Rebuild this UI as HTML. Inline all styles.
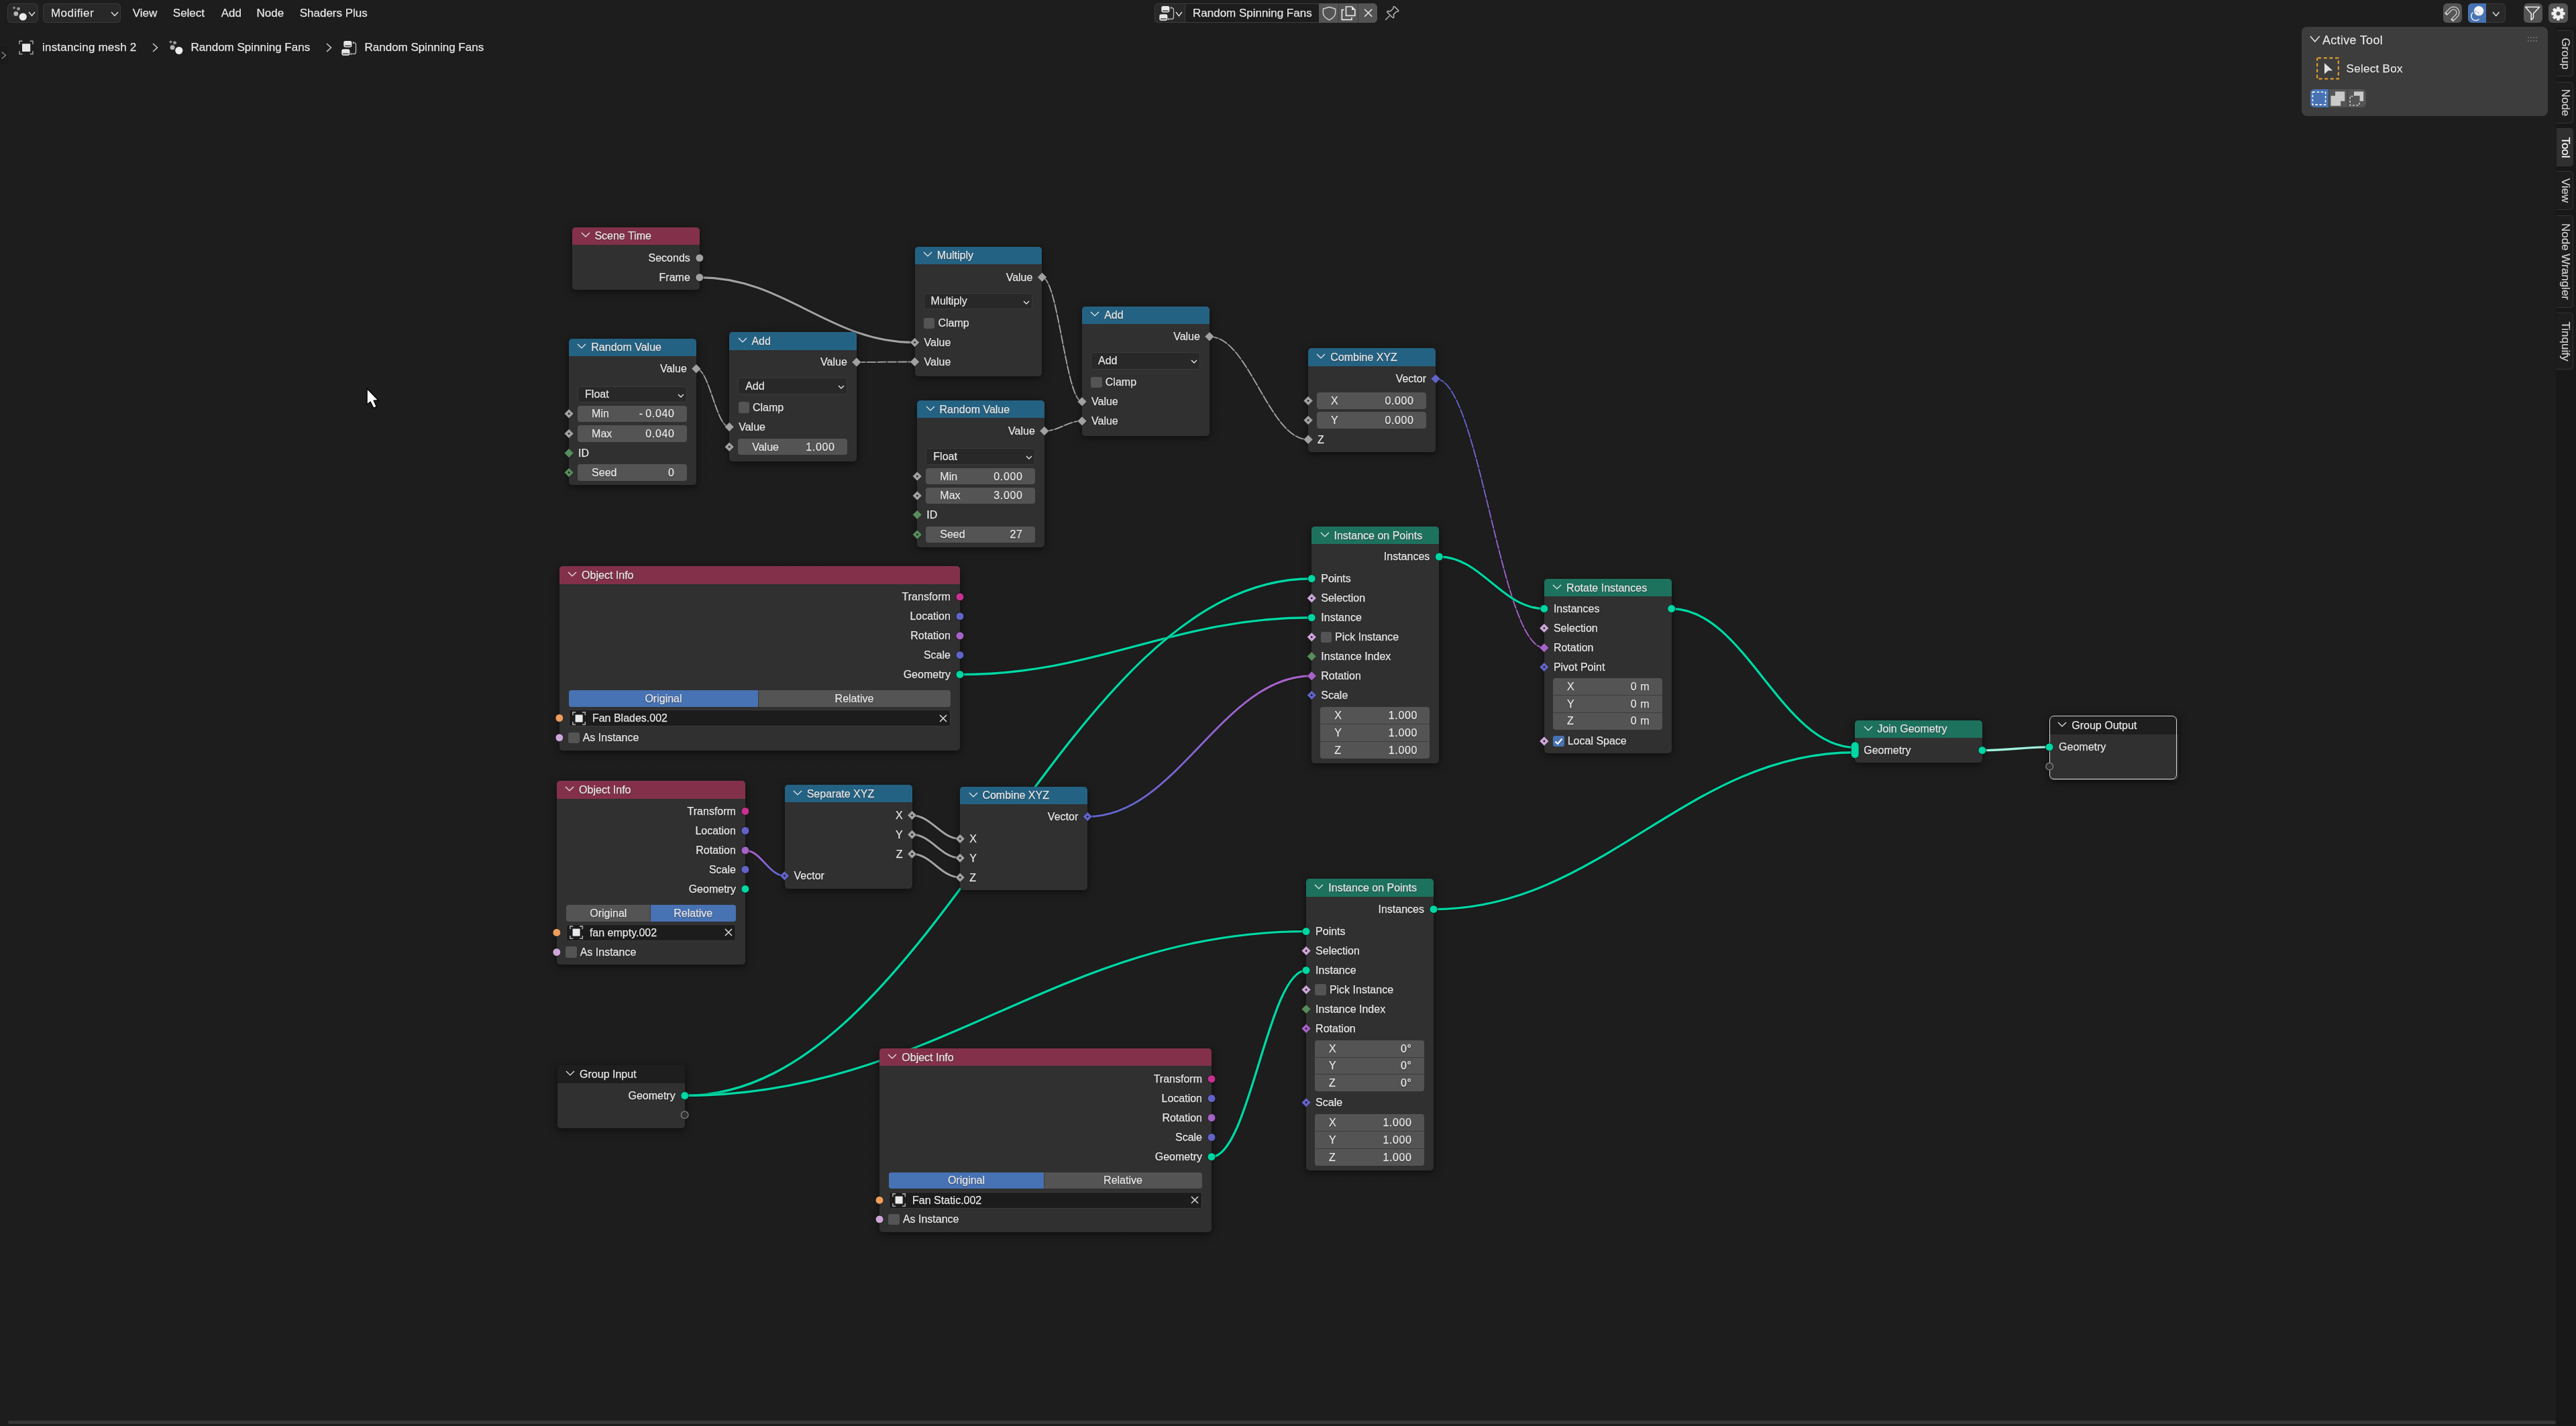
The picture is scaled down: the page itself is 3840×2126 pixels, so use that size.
<!DOCTYPE html>
<html><head><meta charset="utf-8"><title>Blender Node Editor</title><style>html,body{margin:0;padding:0}
body{width:3840px;height:2126px;background:#1d1d1d;overflow:hidden;position:relative;font-family:"Liberation Sans", sans-serif}
.t{position:absolute;white-space:nowrap;-webkit-text-stroke:0.25px currentColor;text-shadow:0 0.5px 1.5px rgba(0,0,0,0.55)}
.r{position:absolute}
svg.r{overflow:visible}</style></head>
<body>
<div style="position:absolute;left:0;top:0;width:3840px;height:2126px;will-change:transform">
<svg class="r" style="left:0;top:0" width="3840" height="2126"><defs><pattern id="gmin" patternUnits="userSpaceOnUse" x="21.1" y="20.8" width="27.196" height="27.196"><rect x="0" y="0" width="1.2" height="1.2" fill="#222"/></pattern><pattern id="gmaj" patternUnits="userSpaceOnUse" x="48.30" y="75.20" width="135.98" height="135.98"><rect x="-0.9" y="-0.9" width="2" height="2" fill="#292929"/></pattern></defs><rect width="3840" height="2126" fill="url(#gmin)"/><rect width="3840" height="2126" fill="url(#gmaj)"/><path d="M1042.8 413.6C1171.1 413.6 1235.3 510.6 1363.6 510.6" fill="none" stroke="#000" stroke-opacity="0.35" stroke-width="5.2"/><path d="M1042.8 413.6C1171.1 413.6 1235.3 510.6 1363.6 510.6" fill="none" stroke="#a1a1a1" stroke-width="3.2"/><path d="M1037.8 549.7C1057.6 549.7 1067.4 636.6 1087.2 636.6" fill="none" stroke="#000" stroke-opacity="0.25" stroke-width="3.2"/><path d="M1037.8 549.7C1057.6 549.7 1067.4 636.6 1087.2 636.6" fill="none" stroke="#a1a1a1" stroke-opacity="0.5" stroke-width="1.8"/><path d="M1037.8 549.7C1057.6 549.7 1067.4 636.6 1087.2 636.6" fill="none" stroke="#a1a1a1" stroke-width="1.8" stroke-dasharray="13 2.5"/><path d="M1276.8 539.9C1311.5 539.9 1328.9 539.5 1363.6 539.5" fill="none" stroke="#000" stroke-opacity="0.25" stroke-width="3.2"/><path d="M1276.8 539.9C1311.5 539.9 1328.9 539.5 1363.6 539.5" fill="none" stroke="#a1a1a1" stroke-opacity="0.5" stroke-width="1.8"/><path d="M1276.8 539.9C1311.5 539.9 1328.9 539.5 1363.6 539.5" fill="none" stroke="#a1a1a1" stroke-width="1.8" stroke-dasharray="13 2.5"/><path d="M1553.4 413.3C1577.2 413.3 1589.2 598.7 1613.0 598.7" fill="none" stroke="#000" stroke-opacity="0.25" stroke-width="3.2"/><path d="M1553.4 413.3C1577.2 413.3 1589.2 598.7 1613.0 598.7" fill="none" stroke="#a1a1a1" stroke-opacity="0.5" stroke-width="1.8"/><path d="M1553.4 413.3C1577.2 413.3 1589.2 598.7 1613.0 598.7" fill="none" stroke="#a1a1a1" stroke-width="1.8" stroke-dasharray="13 2.5"/><path d="M1556.8 642.5C1579.3 642.5 1590.5 627.7 1613.0 627.7" fill="none" stroke="#000" stroke-opacity="0.25" stroke-width="3.2"/><path d="M1556.8 642.5C1579.3 642.5 1590.5 627.7 1613.0 627.7" fill="none" stroke="#a1a1a1" stroke-opacity="0.5" stroke-width="1.8"/><path d="M1556.8 642.5C1579.3 642.5 1590.5 627.7 1613.0 627.7" fill="none" stroke="#a1a1a1" stroke-width="1.8" stroke-dasharray="13 2.5"/><path d="M1802.9 501.8C1861.8 501.8 1891.2 655.3 1950.1 655.3" fill="none" stroke="#000" stroke-opacity="0.25" stroke-width="3.2"/><path d="M1802.9 501.8C1861.8 501.8 1891.2 655.3 1950.1 655.3" fill="none" stroke="#a1a1a1" stroke-opacity="0.5" stroke-width="1.8"/><path d="M1802.9 501.8C1861.8 501.8 1891.2 655.3 1950.1 655.3" fill="none" stroke="#a1a1a1" stroke-width="1.8" stroke-dasharray="13 2.5"/><defs><linearGradient id="lg1" gradientUnits="userSpaceOnUse" x1="2140.0" y1="564.7" x2="2301.9" y2="965.8"><stop offset="0.15" stop-color="#6363c7"/><stop offset="0.85" stop-color="#a663c7"/></linearGradient></defs><path d="M2140.0 564.7C2204.8 564.7 2237.1 965.8 2301.9 965.8" fill="none" stroke="#000" stroke-opacity="0.25" stroke-width="3.2"/><path d="M2140.0 564.7C2204.8 564.7 2237.1 965.8 2301.9 965.8" fill="none" stroke="url(#lg1)" stroke-opacity="0.5" stroke-width="1.8"/><path d="M2140.0 564.7C2204.8 564.7 2237.1 965.8 2301.9 965.8" fill="none" stroke="url(#lg1)" stroke-width="1.8" stroke-dasharray="13 2.5"/><path d="M2145.3 830.0C2207.9 830.0 2239.3 907.5 2301.9 907.5" fill="none" stroke="#000" stroke-opacity="0.35" stroke-width="5.0"/><path d="M2145.3 830.0C2207.9 830.0 2239.3 907.5 2301.9 907.5" fill="none" stroke="#00d6a3" stroke-width="3.4"/><path d="M1430.9 1005.6C1640.7 1005.6 1745.5 920.8 1955.3 920.8" fill="none" stroke="#000" stroke-opacity="0.35" stroke-width="5.0"/><path d="M1430.9 1005.6C1640.7 1005.6 1745.5 920.8 1955.3 920.8" fill="none" stroke="#00d6a3" stroke-width="3.4"/><path d="M1020.7 1633.5C1394.5 1633.5 1581.5 862.7 1955.3 862.7" fill="none" stroke="#000" stroke-opacity="0.35" stroke-width="5.0"/><path d="M1020.7 1633.5C1394.5 1633.5 1581.5 862.7 1955.3 862.7" fill="none" stroke="#00d6a3" stroke-width="3.4"/><path d="M1020.7 1633.5C1391.3 1633.5 1576.5 1388.6 1947.1 1388.6" fill="none" stroke="#000" stroke-opacity="0.35" stroke-width="5.0"/><path d="M1020.7 1633.5C1391.3 1633.5 1576.5 1388.6 1947.1 1388.6" fill="none" stroke="#00d6a3" stroke-width="3.4"/><defs><linearGradient id="lg2" gradientUnits="userSpaceOnUse" x1="1621.2" y1="1217.5" x2="1955.3" y2="1007.7"><stop offset="0.15" stop-color="#6363c7"/><stop offset="0.85" stop-color="#a663c7"/></linearGradient></defs><path d="M1621.2 1217.5C1754.8 1217.5 1821.7 1007.7 1955.3 1007.7" fill="none" stroke="#000" stroke-opacity="0.35" stroke-width="5.2"/><path d="M1621.2 1217.5C1754.8 1217.5 1821.7 1007.7 1955.3 1007.7" fill="none" stroke="url(#lg2)" stroke-width="3.2"/><defs><linearGradient id="lg3" gradientUnits="userSpaceOnUse" x1="1110.9" y1="1267.8" x2="1169.5" y2="1305.7"><stop offset="0.15" stop-color="#a663c7"/><stop offset="0.85" stop-color="#6363c7"/></linearGradient></defs><path d="M1110.9 1267.8C1134.3 1267.8 1146.1 1305.7 1169.5 1305.7" fill="none" stroke="#000" stroke-opacity="0.35" stroke-width="5.2"/><path d="M1110.9 1267.8C1134.3 1267.8 1146.1 1305.7 1169.5 1305.7" fill="none" stroke="url(#lg3)" stroke-width="3.2"/><path d="M1359.6 1215.6C1388.2 1215.6 1402.6 1250.6 1431.2 1250.6" fill="none" stroke="#000" stroke-opacity="0.35" stroke-width="5.2"/><path d="M1359.6 1215.6C1388.2 1215.6 1402.6 1250.6 1431.2 1250.6" fill="none" stroke="#a1a1a1" stroke-width="3.2"/><path d="M1359.6 1244.2C1388.2 1244.2 1402.6 1279.2 1431.2 1279.2" fill="none" stroke="#000" stroke-opacity="0.35" stroke-width="5.2"/><path d="M1359.6 1244.2C1388.2 1244.2 1402.6 1279.2 1431.2 1279.2" fill="none" stroke="#a1a1a1" stroke-width="3.2"/><path d="M1359.6 1273.2C1388.2 1273.2 1402.6 1308.2 1431.2 1308.2" fill="none" stroke="#000" stroke-opacity="0.35" stroke-width="5.2"/><path d="M1359.6 1273.2C1388.2 1273.2 1402.6 1308.2 1431.2 1308.2" fill="none" stroke="#a1a1a1" stroke-width="3.2"/><path d="M1806.0 1724.7C1862.4 1724.7 1890.7 1446.6 1947.1 1446.6" fill="none" stroke="#000" stroke-opacity="0.35" stroke-width="5.0"/><path d="M1806.0 1724.7C1862.4 1724.7 1890.7 1446.6 1947.1 1446.6" fill="none" stroke="#00d6a3" stroke-width="3.4"/><path d="M2491.7 907.5C2601.1 907.5 2655.8 1114.4 2765.2 1114.4" fill="none" stroke="#000" stroke-opacity="0.35" stroke-width="5.0"/><path d="M2491.7 907.5C2601.1 907.5 2655.8 1114.4 2765.2 1114.4" fill="none" stroke="#00d6a3" stroke-width="3.4"/><path d="M2137.0 1355.6C2388.3 1355.6 2513.9 1121.7 2765.2 1121.7" fill="none" stroke="#000" stroke-opacity="0.35" stroke-width="5.0"/><path d="M2137.0 1355.6C2388.3 1355.6 2513.9 1121.7 2765.2 1121.7" fill="none" stroke="#00d6a3" stroke-width="3.4"/><path d="M2954.9 1118.6C2995.0 1118.6 3015.0 1113.8 3055.1 1113.8" fill="none" stroke="#000" stroke-opacity="0.35" stroke-width="5.0"/><path d="M2954.9 1118.6C2995.0 1118.6 3015.0 1113.8 3055.1 1113.8" fill="none" stroke="#9ff0dc" stroke-width="3.4"/></svg>
<div class="r" style="left:853.2px;top:339.0px;width:189.6px;height:93.4px;background:#303030;border-radius:5px;box-shadow:0 3px 12px rgba(0,0,0,0.55);"></div><div class="r" style="left:853.2px;top:339.0px;width:189.6px;height:26.1px;background:#83314a;border-radius:5px 5px 0 0"></div><svg class="r" style="left:864.5px;top:345.4px" width="16" height="9.9"><path d="M2 2L8.0 7.9L14 2" fill="none" stroke="#e6e6e6" stroke-width="1.35"/></svg><div class="t" style="left:886.4px;top:340.4px;font-size:16px;line-height:24px;color:#e6e6e6;">Scene Time</div><div class="t" style="right:2811.2px;top:373.0px;font-size:16px;line-height:24px;color:#e6e6e6;">Seconds</div><div class="t" style="right:2811.2px;top:401.9px;font-size:16px;line-height:24px;color:#e6e6e6;">Frame</div><div class="r" style="left:848.1px;top:505.1px;width:189.7px;height:217.7px;background:#303030;border-radius:5px;box-shadow:0 3px 12px rgba(0,0,0,0.55);"></div><div class="r" style="left:848.1px;top:505.1px;width:189.7px;height:25.8px;background:#246283;border-radius:5px 5px 0 0"></div><svg class="r" style="left:859.4px;top:511.4px" width="16" height="9.9"><path d="M2 2L8.0 7.9L14 2" fill="none" stroke="#e6e6e6" stroke-width="1.35"/></svg><div class="t" style="left:881.3px;top:506.3px;font-size:16px;line-height:24px;color:#e6e6e6;">Random Value</div><div class="t" style="right:2816.2px;top:538.0px;font-size:16px;line-height:24px;color:#e6e6e6;">Value</div><div class="r" style="left:861.1px;top:575.8px;width:162.7px;height:24.4px;background:#282828;border-radius:4px;box-shadow:inset 0 0 0 1px #3a3a3a;"></div><div class="t" style="left:872.1px;top:576.3px;font-size:16px;line-height:24px;color:#e6e6e6;">Float</div><svg class="r" style="left:1008.8px;top:585.5px" width="12" height="8"><path d="M2 2L6.0 6L10 2" fill="none" stroke="#e6e6e6" stroke-width="1.4"/></svg><div class="r" style="left:861.1px;top:604.9px;width:162.7px;height:23.9px;background:#545454;border-radius:4px;"></div><div class="t" style="left:882.1px;top:605.2px;font-size:16px;line-height:24px;color:#e6e6e6;">Min</div><div class="t" style="right:2834.6px;top:605.2px;font-size:16px;line-height:24px;color:#e6e6e6;letter-spacing:0.6px;">-&#8201;0.040</div><div class="r" style="left:861.1px;top:633.8px;width:162.7px;height:25.3px;background:#545454;border-radius:4px;"></div><div class="t" style="left:882.1px;top:634.8px;font-size:16px;line-height:24px;color:#e6e6e6;">Max</div><div class="t" style="right:2834.6px;top:634.8px;font-size:16px;line-height:24px;color:#e6e6e6;letter-spacing:0.6px;">0.040</div><div class="t" style="left:862.1px;top:663.9px;font-size:16px;line-height:24px;color:#e6e6e6;">ID</div><div class="r" style="left:861.1px;top:691.9px;width:162.7px;height:25.3px;background:#545454;border-radius:4px;"></div><div class="t" style="left:882.1px;top:692.9px;font-size:16px;line-height:24px;color:#e6e6e6;">Seed</div><div class="t" style="right:2834.6px;top:692.9px;font-size:16px;line-height:24px;color:#e6e6e6;letter-spacing:0.6px;">0</div><div class="r" style="left:1087.2px;top:495.2px;width:189.6px;height:192.5px;background:#303030;border-radius:5px;box-shadow:0 3px 12px rgba(0,0,0,0.55);"></div><div class="r" style="left:1087.2px;top:495.2px;width:189.6px;height:26.4px;background:#246283;border-radius:5px 5px 0 0"></div><svg class="r" style="left:1098.5px;top:501.8px" width="16" height="9.9"><path d="M2 2L8.0 7.9L14 2" fill="none" stroke="#e6e6e6" stroke-width="1.35"/></svg><div class="t" style="left:1120.4px;top:496.7px;font-size:16px;line-height:24px;color:#e6e6e6;">Add</div><div class="t" style="right:2577.2px;top:528.2px;font-size:16px;line-height:24px;color:#e6e6e6;">Value</div><div class="r" style="left:1100.2px;top:563.4px;width:162.6px;height:24.7px;background:#282828;border-radius:4px;box-shadow:inset 0 0 0 1px #3a3a3a;"></div><div class="t" style="left:1111.2px;top:564.1px;font-size:16px;line-height:24px;color:#e6e6e6;">Add</div><svg class="r" style="left:1247.8px;top:573.2px" width="12" height="8"><path d="M2 2L6.0 6L10 2" fill="none" stroke="#e6e6e6" stroke-width="1.4"/></svg><div class="r" style="left:1100.5px;top:599.4px;width:16.6px;height:16.6px;background:#545454;border-radius:3px;"></div><div class="t" style="left:1122.0px;top:596.0px;font-size:16px;line-height:24px;color:#e6e6e6;">Clamp</div><div class="t" style="left:1101.2px;top:624.9px;font-size:16px;line-height:24px;color:#e6e6e6;">Value</div><div class="r" style="left:1100.2px;top:654.0px;width:162.6px;height:24.4px;background:#545454;border-radius:4px;"></div><div class="t" style="left:1121.2px;top:654.5px;font-size:16px;line-height:24px;color:#e6e6e6;">Value</div><div class="t" style="right:2595.6px;top:654.5px;font-size:16px;line-height:24px;color:#e6e6e6;letter-spacing:0.6px;">1.000</div><div class="r" style="left:1363.6px;top:367.8px;width:189.8px;height:193.6px;background:#303030;border-radius:5px;box-shadow:0 3px 12px rgba(0,0,0,0.55);"></div><div class="r" style="left:1363.6px;top:367.8px;width:189.8px;height:26.3px;background:#246283;border-radius:5px 5px 0 0"></div><svg class="r" style="left:1374.9px;top:374.4px" width="16" height="9.9"><path d="M2 2L8.0 7.9L14 2" fill="none" stroke="#e6e6e6" stroke-width="1.35"/></svg><div class="t" style="left:1396.8px;top:369.3px;font-size:16px;line-height:24px;color:#e6e6e6;">Multiply</div><div class="t" style="right:2300.6px;top:401.6px;font-size:16px;line-height:24px;color:#e6e6e6;">Value</div><div class="r" style="left:1376.6px;top:436.8px;width:162.8px;height:24.3px;background:#282828;border-radius:4px;box-shadow:inset 0 0 0 1px #3a3a3a;"></div><div class="t" style="left:1387.6px;top:437.3px;font-size:16px;line-height:24px;color:#e6e6e6;">Multiply</div><svg class="r" style="left:1524.4px;top:446.5px" width="12" height="8"><path d="M2 2L6.0 6L10 2" fill="none" stroke="#e6e6e6" stroke-width="1.4"/></svg><div class="r" style="left:1376.9px;top:473.6px;width:16.6px;height:16.6px;background:#545454;border-radius:3px;"></div><div class="t" style="left:1398.4px;top:470.2px;font-size:16px;line-height:24px;color:#e6e6e6;">Clamp</div><div class="t" style="left:1377.6px;top:498.9px;font-size:16px;line-height:24px;color:#e6e6e6;">Value</div><div class="t" style="left:1377.6px;top:527.8px;font-size:16px;line-height:24px;color:#e6e6e6;">Value</div><div class="r" style="left:1613.0px;top:457.0px;width:189.9px;height:192.6px;background:#303030;border-radius:5px;box-shadow:0 3px 12px rgba(0,0,0,0.55);"></div><div class="r" style="left:1613.0px;top:457.0px;width:189.9px;height:26.0px;background:#246283;border-radius:5px 5px 0 0"></div><svg class="r" style="left:1624.3px;top:463.4px" width="16" height="9.9"><path d="M2 2L8.0 7.9L14 2" fill="none" stroke="#e6e6e6" stroke-width="1.35"/></svg><div class="t" style="left:1646.2px;top:458.3px;font-size:16px;line-height:24px;color:#e6e6e6;">Add</div><div class="t" style="right:2051.1px;top:490.1px;font-size:16px;line-height:24px;color:#e6e6e6;">Value</div><div class="r" style="left:1626.0px;top:524.7px;width:162.9px;height:25.9px;background:#282828;border-radius:4px;box-shadow:inset 0 0 0 1px #3a3a3a;"></div><div class="t" style="left:1637.0px;top:526.0px;font-size:16px;line-height:24px;color:#e6e6e6;">Add</div><svg class="r" style="left:1773.9px;top:535.2px" width="12" height="8"><path d="M2 2L6.0 6L10 2" fill="none" stroke="#e6e6e6" stroke-width="1.4"/></svg><div class="r" style="left:1626.3px;top:561.5px;width:16.6px;height:16.6px;background:#545454;border-radius:3px;"></div><div class="t" style="left:1647.8px;top:558.1px;font-size:16px;line-height:24px;color:#e6e6e6;">Clamp</div><div class="t" style="left:1627.0px;top:587.0px;font-size:16px;line-height:24px;color:#e6e6e6;">Value</div><div class="t" style="left:1627.0px;top:616.0px;font-size:16px;line-height:24px;color:#e6e6e6;">Value</div><div class="r" style="left:1367.3px;top:597.1px;width:189.5px;height:218.7px;background:#303030;border-radius:5px;box-shadow:0 3px 12px rgba(0,0,0,0.55);"></div><div class="r" style="left:1367.3px;top:597.1px;width:189.5px;height:26.2px;background:#246283;border-radius:5px 5px 0 0"></div><svg class="r" style="left:1378.6px;top:603.6px" width="16" height="9.9"><path d="M2 2L8.0 7.9L14 2" fill="none" stroke="#e6e6e6" stroke-width="1.35"/></svg><div class="t" style="left:1400.5px;top:598.5px;font-size:16px;line-height:24px;color:#e6e6e6;">Random Value</div><div class="t" style="right:2297.2px;top:630.8px;font-size:16px;line-height:24px;color:#e6e6e6;">Value</div><div class="r" style="left:1380.3px;top:668.4px;width:162.5px;height:24.9px;background:#282828;border-radius:4px;box-shadow:inset 0 0 0 1px #3a3a3a;"></div><div class="t" style="left:1391.3px;top:669.2px;font-size:16px;line-height:24px;color:#e6e6e6;">Float</div><svg class="r" style="left:1527.8px;top:678.3px" width="12" height="8"><path d="M2 2L6.0 6L10 2" fill="none" stroke="#e6e6e6" stroke-width="1.4"/></svg><div class="r" style="left:1380.3px;top:698.0px;width:162.5px;height:24.3px;background:#545454;border-radius:4px;"></div><div class="t" style="left:1401.3px;top:698.5px;font-size:16px;line-height:24px;color:#e6e6e6;">Min</div><div class="t" style="right:2315.6px;top:698.5px;font-size:16px;line-height:24px;color:#e6e6e6;letter-spacing:0.6px;">0.000</div><div class="r" style="left:1380.3px;top:727.0px;width:162.5px;height:24.2px;background:#545454;border-radius:4px;"></div><div class="t" style="left:1401.3px;top:727.4px;font-size:16px;line-height:24px;color:#e6e6e6;">Max</div><div class="t" style="right:2315.6px;top:727.4px;font-size:16px;line-height:24px;color:#e6e6e6;letter-spacing:0.6px;">3.000</div><div class="t" style="left:1381.3px;top:755.7px;font-size:16px;line-height:24px;color:#e6e6e6;">ID</div><div class="r" style="left:1380.3px;top:784.9px;width:162.5px;height:24.2px;background:#545454;border-radius:4px;"></div><div class="t" style="left:1401.3px;top:785.3px;font-size:16px;line-height:24px;color:#e6e6e6;">Seed</div><div class="t" style="right:2315.6px;top:785.3px;font-size:16px;line-height:24px;color:#e6e6e6;letter-spacing:0.6px;">27</div><div class="r" style="left:1950.1px;top:519.3px;width:189.9px;height:154.8px;background:#303030;border-radius:5px;box-shadow:0 3px 12px rgba(0,0,0,0.55);"></div><div class="r" style="left:1950.1px;top:519.3px;width:189.9px;height:26.3px;background:#246283;border-radius:5px 5px 0 0"></div><svg class="r" style="left:1961.4px;top:525.9px" width="16" height="9.9"><path d="M2 2L8.0 7.9L14 2" fill="none" stroke="#e6e6e6" stroke-width="1.35"/></svg><div class="t" style="left:1983.3px;top:520.8px;font-size:16px;line-height:24px;color:#e6e6e6;">Combine XYZ</div><div class="t" style="right:1714.0px;top:553.0px;font-size:16px;line-height:24px;color:#e6e6e6;">Vector</div><div class="r" style="left:1963.1px;top:585.2px;width:162.9px;height:24.7px;background:#545454;border-radius:4px;"></div><div class="t" style="left:1984.1px;top:585.9px;font-size:16px;line-height:24px;color:#e6e6e6;">X</div><div class="t" style="right:1732.4px;top:585.9px;font-size:16px;line-height:24px;color:#e6e6e6;letter-spacing:0.6px;">0.000</div><div class="r" style="left:1963.1px;top:614.1px;width:162.9px;height:24.9px;background:#545454;border-radius:4px;"></div><div class="t" style="left:1984.1px;top:614.9px;font-size:16px;line-height:24px;color:#e6e6e6;">Y</div><div class="t" style="right:1732.4px;top:614.9px;font-size:16px;line-height:24px;color:#e6e6e6;letter-spacing:0.6px;">0.000</div><div class="t" style="left:1964.1px;top:643.6px;font-size:16px;line-height:24px;color:#e6e6e6;">Z</div><div class="r" style="left:1955.3px;top:785.2px;width:190.0px;height:352.5px;background:#303030;border-radius:5px;box-shadow:0 3px 12px rgba(0,0,0,0.55);"></div><div class="r" style="left:1955.3px;top:785.2px;width:190.0px;height:26.1px;background:#1d725e;border-radius:5px 5px 0 0"></div><svg class="r" style="left:1966.6px;top:791.6px" width="16" height="9.9"><path d="M2 2L8.0 7.9L14 2" fill="none" stroke="#e6e6e6" stroke-width="1.35"/></svg><div class="t" style="left:1988.5px;top:786.6px;font-size:16px;line-height:24px;color:#e6e6e6;">Instance on Points</div><div class="t" style="right:1708.7px;top:818.3px;font-size:16px;line-height:24px;color:#e6e6e6;">Instances</div><div class="t" style="left:1969.3px;top:851.0px;font-size:16px;line-height:24px;color:#e6e6e6;">Points</div><div class="t" style="left:1969.3px;top:880.1px;font-size:16px;line-height:24px;color:#e6e6e6;">Selection</div><div class="t" style="left:1969.3px;top:909.1px;font-size:16px;line-height:24px;color:#e6e6e6;">Instance</div><div class="r" style="left:1968.6px;top:941.5px;width:16.6px;height:16.6px;background:#545454;border-radius:3px;"></div><div class="t" style="left:1990.1px;top:938.1px;font-size:16px;line-height:24px;color:#e6e6e6;">Pick Instance</div><div class="t" style="left:1969.3px;top:966.9px;font-size:16px;line-height:24px;color:#e6e6e6;">Instance Index</div><div class="t" style="left:1969.3px;top:996.0px;font-size:16px;line-height:24px;color:#e6e6e6;">Rotation</div><div class="t" style="left:1969.3px;top:1024.7px;font-size:16px;line-height:24px;color:#e6e6e6;">Scale</div><div class="r" style="left:1968.3px;top:1053.8px;width:163.0px;height:77.2px;background:#545454;border-radius:4px;"></div><div class="t" style="left:1989.3px;top:1055.0px;font-size:16px;line-height:24px;color:#e6e6e6;">X</div><div class="t" style="right:1727.1px;top:1055.0px;font-size:16px;line-height:24px;color:#e6e6e6;letter-spacing:0.6px;">1.000</div><div class="r" style="left:1968.3px;top:1079.0px;width:163.0px;height:1.0px;background:#3d3d3d;border-radius:0px;"></div><div class="t" style="left:1989.3px;top:1080.7px;font-size:16px;line-height:24px;color:#e6e6e6;">Y</div><div class="t" style="right:1727.1px;top:1080.7px;font-size:16px;line-height:24px;color:#e6e6e6;letter-spacing:0.6px;">1.000</div><div class="r" style="left:1968.3px;top:1104.8px;width:163.0px;height:1.0px;background:#3d3d3d;border-radius:0px;"></div><div class="t" style="left:1989.3px;top:1106.5px;font-size:16px;line-height:24px;color:#e6e6e6;">Z</div><div class="t" style="right:1727.1px;top:1106.5px;font-size:16px;line-height:24px;color:#e6e6e6;letter-spacing:0.6px;">1.000</div><div class="r" style="left:2301.9px;top:863.3px;width:189.8px;height:259.7px;background:#303030;border-radius:5px;box-shadow:0 3px 12px rgba(0,0,0,0.55);"></div><div class="r" style="left:2301.9px;top:863.3px;width:189.8px;height:25.8px;background:#1d725e;border-radius:5px 5px 0 0"></div><svg class="r" style="left:2313.2px;top:869.6px" width="16" height="9.9"><path d="M2 2L8.0 7.9L14 2" fill="none" stroke="#e6e6e6" stroke-width="1.35"/></svg><div class="t" style="left:2335.1px;top:864.5px;font-size:16px;line-height:24px;color:#e6e6e6;">Rotate Instances</div><div class="t" style="left:2315.9px;top:895.8px;font-size:16px;line-height:24px;color:#e6e6e6;">Instances</div><div class="t" style="left:2315.9px;top:924.8px;font-size:16px;line-height:24px;color:#e6e6e6;">Selection</div><div class="t" style="left:2315.9px;top:954.1px;font-size:16px;line-height:24px;color:#e6e6e6;">Rotation</div><div class="t" style="left:2315.9px;top:982.9px;font-size:16px;line-height:24px;color:#e6e6e6;">Pivot Point</div><div class="r" style="left:2314.9px;top:1011.1px;width:162.8px;height:76.5px;background:#545454;border-radius:4px;"></div><div class="t" style="left:2335.9px;top:1012.2px;font-size:16px;line-height:24px;color:#e6e6e6;">X</div><div class="t" style="right:1380.7px;top:1012.2px;font-size:16px;line-height:24px;color:#e6e6e6;letter-spacing:0.6px;">0 m</div><div class="r" style="left:2314.9px;top:1036.1px;width:162.8px;height:1.0px;background:#3d3d3d;border-radius:0px;"></div><div class="t" style="left:2335.9px;top:1037.7px;font-size:16px;line-height:24px;color:#e6e6e6;">Y</div><div class="t" style="right:1380.7px;top:1037.7px;font-size:16px;line-height:24px;color:#e6e6e6;letter-spacing:0.6px;">0 m</div><div class="r" style="left:2314.9px;top:1061.6px;width:162.8px;height:1.0px;background:#3d3d3d;border-radius:0px;"></div><div class="t" style="left:2335.9px;top:1063.2px;font-size:16px;line-height:24px;color:#e6e6e6;">Z</div><div class="t" style="right:1380.7px;top:1063.2px;font-size:16px;line-height:24px;color:#e6e6e6;letter-spacing:0.6px;">0 m</div><div class="r" style="left:2315.2px;top:1096.6px;width:16.6px;height:16.6px;background:#4772b3;border-radius:3px;"></div><svg class="r" style="left:2315.2px;top:1096.6px" width="17" height="17"><path d="M3.5 8.5L7 12L13.5 4.5" fill="none" stroke="#fff" stroke-width="2.2"/></svg><div class="t" style="left:2336.7px;top:1093.2px;font-size:16px;line-height:24px;color:#e6e6e6;">Local Space</div><div class="r" style="left:833.9px;top:844.2px;width:597.0px;height:274.4px;background:#303030;border-radius:5px;box-shadow:0 3px 12px rgba(0,0,0,0.55);"></div><div class="r" style="left:833.9px;top:844.2px;width:597.0px;height:26.9px;background:#83314a;border-radius:5px 5px 0 0"></div><svg class="r" style="left:845.2px;top:851.1px" width="16" height="9.9"><path d="M2 2L8.0 7.9L14 2" fill="none" stroke="#e6e6e6" stroke-width="1.35"/></svg><div class="t" style="left:867.1px;top:846.0px;font-size:16px;line-height:24px;color:#e6e6e6;">Object Info</div><div class="t" style="right:2423.1px;top:878.2px;font-size:16px;line-height:24px;color:#e6e6e6;">Transform</div><div class="t" style="right:2423.1px;top:907.1px;font-size:16px;line-height:24px;color:#e6e6e6;">Location</div><div class="t" style="right:2423.1px;top:936.2px;font-size:16px;line-height:24px;color:#e6e6e6;">Rotation</div><div class="t" style="right:2423.1px;top:965.0px;font-size:16px;line-height:24px;color:#e6e6e6;">Scale</div><div class="t" style="right:2423.1px;top:993.9px;font-size:16px;line-height:24px;color:#e6e6e6;">Geometry</div><div class="r" style="left:847.9px;top:1029.1px;width:569.0px;height:24.9px;background:#545454;border-radius:4px;"></div><div class="r" style="left:847.9px;top:1029.1px;width:282.2px;height:24.9px;background:#4772b3;border-radius:4px 0 0 4px"></div><div class="r" style="left:1129.6px;top:1029.1px;width:1.0px;height:24.9px;background:#3d3d3d;border-radius:0px;"></div><div class="t" style="left:689.0px;width:600px;text-align:center;top:1029.9px;font-size:16px;line-height:24px;color:#e6e6e6;">Original</div><div class="t" style="left:973.5px;width:600px;text-align:center;top:1029.9px;font-size:16px;line-height:24px;color:#e6e6e6;">Relative</div><div class="r" style="left:847.9px;top:1057.9px;width:569.0px;height:25.2px;background:#1c1c1c;border-radius:4px;box-shadow:inset 0 0 0 1px #3a3a3a;"></div><svg class="r" style="left:853.1px;top:1060.5px" width="21" height="21"><rect x="4.6" y="4.6" width="11" height="11" fill="#eaeaea"/><path d="M0.9 5.2V0.9H5.2M15 0.9H19.3V5.2M19.3 15V19.3H15M5.2 19.3H0.9V15" fill="none" stroke="#a8a8a8" stroke-width="1.6"/></svg><div class="t" style="left:882.9px;top:1058.8px;font-size:16px;line-height:24px;color:#e6e6e6;">Fan Blades.002</div><svg class="r" style="left:1399.9px;top:1064.5px" width="12" height="12"><path d="M1 1L11 11M11 1L1 11" stroke="#dcdcdc" stroke-width="1.5"/></svg><div class="r" style="left:847.2px;top:1091.5px;width:16.6px;height:16.6px;background:#545454;border-radius:3px;"></div><div class="t" style="left:868.7px;top:1088.1px;font-size:16px;line-height:24px;color:#e6e6e6;">As Instance</div><div class="r" style="left:829.9px;top:1164.3px;width:281.0px;height:274.1px;background:#303030;border-radius:5px;box-shadow:0 3px 12px rgba(0,0,0,0.55);"></div><div class="r" style="left:829.9px;top:1164.3px;width:281.0px;height:26.4px;background:#83314a;border-radius:5px 5px 0 0"></div><svg class="r" style="left:841.2px;top:1170.9px" width="16" height="9.9"><path d="M2 2L8.0 7.9L14 2" fill="none" stroke="#e6e6e6" stroke-width="1.35"/></svg><div class="t" style="left:863.1px;top:1165.8px;font-size:16px;line-height:24px;color:#e6e6e6;">Object Info</div><div class="t" style="right:2743.1px;top:1197.8px;font-size:16px;line-height:24px;color:#e6e6e6;">Transform</div><div class="t" style="right:2743.1px;top:1226.8px;font-size:16px;line-height:24px;color:#e6e6e6;">Location</div><div class="t" style="right:2743.1px;top:1256.1px;font-size:16px;line-height:24px;color:#e6e6e6;">Rotation</div><div class="t" style="right:2743.1px;top:1284.7px;font-size:16px;line-height:24px;color:#e6e6e6;">Scale</div><div class="t" style="right:2743.1px;top:1313.7px;font-size:16px;line-height:24px;color:#e6e6e6;">Geometry</div><div class="r" style="left:843.9px;top:1349.0px;width:253.0px;height:24.8px;background:#545454;border-radius:4px;"></div><div class="r" style="left:969.6px;top:1349.0px;width:127.3px;height:24.8px;background:#4772b3;border-radius:0 4px 4px 0"></div><div class="r" style="left:969.1px;top:1349.0px;width:1.0px;height:24.8px;background:#3d3d3d;border-radius:0px;"></div><div class="t" style="left:606.8px;width:600px;text-align:center;top:1349.7px;font-size:16px;line-height:24px;color:#e6e6e6;">Original</div><div class="t" style="left:733.2px;width:600px;text-align:center;top:1349.7px;font-size:16px;line-height:24px;color:#e6e6e6;">Relative</div><div class="r" style="left:843.9px;top:1377.6px;width:253.0px;height:25.5px;background:#1c1c1c;border-radius:4px;box-shadow:inset 0 0 0 1px #3a3a3a;"></div><svg class="r" style="left:849.1px;top:1380.3px" width="21" height="21"><rect x="4.6" y="4.6" width="11" height="11" fill="#eaeaea"/><path d="M0.9 5.2V0.9H5.2M15 0.9H19.3V5.2M19.3 15V19.3H15M5.2 19.3H0.9V15" fill="none" stroke="#a8a8a8" stroke-width="1.6"/></svg><div class="t" style="left:878.9px;top:1378.7px;font-size:16px;line-height:24px;color:#e6e6e6;">fan empty.002</div><svg class="r" style="left:1079.9px;top:1384.3px" width="12" height="12"><path d="M1 1L11 11M11 1L1 11" stroke="#dcdcdc" stroke-width="1.5"/></svg><div class="r" style="left:843.2px;top:1411.3px;width:16.6px;height:16.6px;background:#545454;border-radius:3px;"></div><div class="t" style="left:864.7px;top:1407.9px;font-size:16px;line-height:24px;color:#e6e6e6;">As Instance</div><div class="r" style="left:1311.1px;top:1563.2px;width:494.9px;height:274.1px;background:#303030;border-radius:5px;box-shadow:0 3px 12px rgba(0,0,0,0.55);"></div><div class="r" style="left:1311.1px;top:1563.2px;width:494.9px;height:26.0px;background:#83314a;border-radius:5px 5px 0 0"></div><svg class="r" style="left:1322.4px;top:1569.6px" width="16" height="9.9"><path d="M2 2L8.0 7.9L14 2" fill="none" stroke="#e6e6e6" stroke-width="1.35"/></svg><div class="t" style="left:1344.3px;top:1564.5px;font-size:16px;line-height:24px;color:#e6e6e6;">Object Info</div><div class="t" style="right:2048.0px;top:1596.9px;font-size:16px;line-height:24px;color:#e6e6e6;">Transform</div><div class="t" style="right:2048.0px;top:1626.0px;font-size:16px;line-height:24px;color:#e6e6e6;">Location</div><div class="t" style="right:2048.0px;top:1654.8px;font-size:16px;line-height:24px;color:#e6e6e6;">Rotation</div><div class="t" style="right:2048.0px;top:1683.9px;font-size:16px;line-height:24px;color:#e6e6e6;">Scale</div><div class="t" style="right:2048.0px;top:1713.0px;font-size:16px;line-height:24px;color:#e6e6e6;">Geometry</div><div class="r" style="left:1325.1px;top:1748.0px;width:466.9px;height:24.0px;background:#545454;border-radius:4px;"></div><div class="r" style="left:1325.1px;top:1748.0px;width:230.9px;height:24.0px;background:#4772b3;border-radius:4px 0 0 4px"></div><div class="r" style="left:1555.5px;top:1748.0px;width:1.0px;height:24.0px;background:#3d3d3d;border-radius:0px;"></div><div class="t" style="left:1140.5px;width:600px;text-align:center;top:1748.3px;font-size:16px;line-height:24px;color:#e6e6e6;">Original</div><div class="t" style="left:1374.0px;width:600px;text-align:center;top:1748.3px;font-size:16px;line-height:24px;color:#e6e6e6;">Relative</div><div class="r" style="left:1325.1px;top:1777.1px;width:466.9px;height:24.5px;background:#1c1c1c;border-radius:4px;box-shadow:inset 0 0 0 1px #3a3a3a;"></div><svg class="r" style="left:1330.3px;top:1779.3px" width="21" height="21"><rect x="4.6" y="4.6" width="11" height="11" fill="#eaeaea"/><path d="M0.9 5.2V0.9H5.2M15 0.9H19.3V5.2M19.3 15V19.3H15M5.2 19.3H0.9V15" fill="none" stroke="#a8a8a8" stroke-width="1.6"/></svg><div class="t" style="left:1360.1px;top:1777.7px;font-size:16px;line-height:24px;color:#e6e6e6;">Fan Static.002</div><svg class="r" style="left:1775.0px;top:1783.3px" width="12" height="12"><path d="M1 1L11 11M11 1L1 11" stroke="#dcdcdc" stroke-width="1.5"/></svg><div class="r" style="left:1324.4px;top:1809.6px;width:16.6px;height:16.6px;background:#545454;border-radius:3px;"></div><div class="t" style="left:1345.9px;top:1806.2px;font-size:16px;line-height:24px;color:#e6e6e6;">As Instance</div><div class="r" style="left:1169.5px;top:1170.1px;width:190.1px;height:155.0px;background:#303030;border-radius:5px;box-shadow:0 3px 12px rgba(0,0,0,0.55);"></div><div class="r" style="left:1169.5px;top:1170.1px;width:190.1px;height:26.1px;background:#246283;border-radius:5px 5px 0 0"></div><svg class="r" style="left:1180.8px;top:1176.6px" width="16" height="9.9"><path d="M2 2L8.0 7.9L14 2" fill="none" stroke="#e6e6e6" stroke-width="1.35"/></svg><div class="t" style="left:1202.7px;top:1171.5px;font-size:16px;line-height:24px;color:#e6e6e6;">Separate XYZ</div><div class="t" style="right:2494.4px;top:1203.9px;font-size:16px;line-height:24px;color:#e6e6e6;">X</div><div class="t" style="right:2494.4px;top:1232.5px;font-size:16px;line-height:24px;color:#e6e6e6;">Y</div><div class="t" style="right:2494.4px;top:1261.5px;font-size:16px;line-height:24px;color:#e6e6e6;">Z</div><div class="t" style="left:1183.5px;top:1294.0px;font-size:16px;line-height:24px;color:#e6e6e6;">Vector</div><div class="r" style="left:1431.2px;top:1172.9px;width:190.0px;height:154.4px;background:#303030;border-radius:5px;box-shadow:0 3px 12px rgba(0,0,0,0.55);"></div><div class="r" style="left:1431.2px;top:1172.9px;width:190.0px;height:26.4px;background:#246283;border-radius:5px 5px 0 0"></div><svg class="r" style="left:1442.5px;top:1179.5px" width="16" height="9.9"><path d="M2 2L8.0 7.9L14 2" fill="none" stroke="#e6e6e6" stroke-width="1.35"/></svg><div class="t" style="left:1464.4px;top:1174.4px;font-size:16px;line-height:24px;color:#e6e6e6;">Combine XYZ</div><div class="t" style="right:2232.8px;top:1205.8px;font-size:16px;line-height:24px;color:#e6e6e6;">Vector</div><div class="t" style="left:1445.2px;top:1238.9px;font-size:16px;line-height:24px;color:#e6e6e6;">X</div><div class="t" style="left:1445.2px;top:1267.5px;font-size:16px;line-height:24px;color:#e6e6e6;">Y</div><div class="t" style="left:1445.2px;top:1296.5px;font-size:16px;line-height:24px;color:#e6e6e6;">Z</div><div class="r" style="left:830.9px;top:1587.7px;width:189.8px;height:93.9px;background:#303030;border-radius:5px;box-shadow:0 3px 12px rgba(0,0,0,0.55);"></div><div class="r" style="left:830.9px;top:1587.7px;width:189.8px;height:27.1px;background:#1e1e1e;border-radius:5px 5px 0 0"></div><svg class="r" style="left:842.2px;top:1594.7px" width="16" height="9.9"><path d="M2 2L8.0 7.9L14 2" fill="none" stroke="#e6e6e6" stroke-width="1.35"/></svg><div class="t" style="left:864.1px;top:1589.6px;font-size:16px;line-height:24px;color:#e6e6e6;">Group Input</div><div class="t" style="right:2833.3px;top:1621.8px;font-size:16px;line-height:24px;color:#e6e6e6;">Geometry</div><div class="r" style="left:1947.1px;top:1310.4px;width:189.9px;height:434.5px;background:#303030;border-radius:5px;box-shadow:0 3px 12px rgba(0,0,0,0.55);"></div><div class="r" style="left:1947.1px;top:1310.4px;width:189.9px;height:26.4px;background:#1d725e;border-radius:5px 5px 0 0"></div><svg class="r" style="left:1958.4px;top:1317.0px" width="16" height="9.9"><path d="M2 2L8.0 7.9L14 2" fill="none" stroke="#e6e6e6" stroke-width="1.35"/></svg><div class="t" style="left:1980.3px;top:1311.9px;font-size:16px;line-height:24px;color:#e6e6e6;">Instance on Points</div><div class="t" style="right:1717.0px;top:1343.9px;font-size:16px;line-height:24px;color:#e6e6e6;">Instances</div><div class="t" style="left:1961.1px;top:1376.9px;font-size:16px;line-height:24px;color:#e6e6e6;">Points</div><div class="t" style="left:1961.1px;top:1405.9px;font-size:16px;line-height:24px;color:#e6e6e6;">Selection</div><div class="t" style="left:1961.1px;top:1434.9px;font-size:16px;line-height:24px;color:#e6e6e6;">Instance</div><div class="r" style="left:1960.4px;top:1467.3px;width:16.6px;height:16.6px;background:#545454;border-radius:3px;"></div><div class="t" style="left:1981.9px;top:1463.9px;font-size:16px;line-height:24px;color:#e6e6e6;">Pick Instance</div><div class="t" style="left:1961.1px;top:1492.9px;font-size:16px;line-height:24px;color:#e6e6e6;">Instance Index</div><div class="t" style="left:1961.1px;top:1521.9px;font-size:16px;line-height:24px;color:#e6e6e6;">Rotation</div><div class="r" style="left:1960.1px;top:1550.8px;width:162.9px;height:76.1px;background:#545454;border-radius:4px;"></div><div class="t" style="left:1981.1px;top:1551.8px;font-size:16px;line-height:24px;color:#e6e6e6;">X</div><div class="t" style="right:1735.4px;top:1551.8px;font-size:16px;line-height:24px;color:#e6e6e6;letter-spacing:0.6px;">0°</div><div class="r" style="left:1960.1px;top:1575.7px;width:162.9px;height:1.0px;background:#3d3d3d;border-radius:0px;"></div><div class="t" style="left:1981.1px;top:1577.2px;font-size:16px;line-height:24px;color:#e6e6e6;">Y</div><div class="t" style="right:1735.4px;top:1577.2px;font-size:16px;line-height:24px;color:#e6e6e6;letter-spacing:0.6px;">0°</div><div class="r" style="left:1960.1px;top:1601.0px;width:162.9px;height:1.0px;background:#3d3d3d;border-radius:0px;"></div><div class="t" style="left:1981.1px;top:1602.5px;font-size:16px;line-height:24px;color:#e6e6e6;">Z</div><div class="t" style="right:1735.4px;top:1602.5px;font-size:16px;line-height:24px;color:#e6e6e6;letter-spacing:0.6px;">0°</div><div class="t" style="left:1961.1px;top:1632.0px;font-size:16px;line-height:24px;color:#e6e6e6;">Scale</div><div class="r" style="left:1960.1px;top:1660.9px;width:162.9px;height:77.5px;background:#545454;border-radius:4px;"></div><div class="t" style="left:1981.1px;top:1662.1px;font-size:16px;line-height:24px;color:#e6e6e6;">X</div><div class="t" style="right:1735.4px;top:1662.1px;font-size:16px;line-height:24px;color:#e6e6e6;letter-spacing:0.6px;">1.000</div><div class="r" style="left:1960.1px;top:1686.2px;width:162.9px;height:1.0px;background:#3d3d3d;border-radius:0px;"></div><div class="t" style="left:1981.1px;top:1688.0px;font-size:16px;line-height:24px;color:#e6e6e6;">Y</div><div class="t" style="right:1735.4px;top:1688.0px;font-size:16px;line-height:24px;color:#e6e6e6;letter-spacing:0.6px;">1.000</div><div class="r" style="left:1960.1px;top:1712.1px;width:162.9px;height:1.0px;background:#3d3d3d;border-radius:0px;"></div><div class="t" style="left:1981.1px;top:1713.8px;font-size:16px;line-height:24px;color:#e6e6e6;">Z</div><div class="t" style="right:1735.4px;top:1713.8px;font-size:16px;line-height:24px;color:#e6e6e6;letter-spacing:0.6px;">1.000</div><div class="r" style="left:2765.2px;top:1074.0px;width:189.7px;height:62.8px;background:#303030;border-radius:5px;box-shadow:0 3px 12px rgba(0,0,0,0.55);"></div><div class="r" style="left:2765.2px;top:1074.0px;width:189.7px;height:26.2px;background:#1d725e;border-radius:5px 5px 0 0"></div><svg class="r" style="left:2776.5px;top:1080.5px" width="16" height="9.9"><path d="M2 2L8.0 7.9L14 2" fill="none" stroke="#e6e6e6" stroke-width="1.35"/></svg><div class="t" style="left:2798.4px;top:1075.4px;font-size:16px;line-height:24px;color:#e6e6e6;">Join Geometry</div><div class="t" style="left:2778.2px;top:1106.9px;font-size:16px;line-height:24px;color:#e6e6e6;">Geometry</div><div class="r" style="left:3055.1px;top:1067.3px;width:191.6px;height:95.7px;background:#303030;border-radius:5px;box-shadow:0 3px 12px rgba(0,0,0,0.55);"></div><div class="r" style="left:3055.1px;top:1067.3px;width:191.6px;height:27.8px;background:#1e1e1e;border-radius:5px 5px 0 0"></div><div class="r" style="left:3055.1px;top:1067.3px;width:188.2px;height:92.3px;border:1.7px solid #d6d6d6;border-radius:7px"></div><svg class="r" style="left:3066.4px;top:1074.6px" width="16" height="9.9"><path d="M2 2L8.0 7.9L14 2" fill="none" stroke="#e6e6e6" stroke-width="1.35"/></svg><div class="t" style="left:3088.3px;top:1069.5px;font-size:16px;line-height:24px;color:#e6e6e6;">Group Output</div><div class="t" style="left:3069.1px;top:1102.1px;font-size:16px;line-height:24px;color:#e6e6e6;">Geometry</div>
<svg class="r" style="left:0;top:0" width="3840" height="2126"><circle cx="1042.8" cy="384.7" r="5.9" fill="#a1a1a1" stroke="#000" stroke-opacity="0.6" stroke-width="1"/><circle cx="1042.8" cy="413.6" r="5.9" fill="#a1a1a1" stroke="#000" stroke-opacity="0.6" stroke-width="1"/><path d="M1030.8 549.7L1037.8 542.7L1044.8 549.7L1037.8 556.7Z" fill="#a1a1a1" stroke="#000" stroke-opacity="0.45" stroke-width="1"/><path d="M841.1 616.8L848.1 609.8L855.1 616.8L848.1 623.8Z" fill="#a1a1a1" stroke="#000" stroke-opacity="0.45" stroke-width="1"/><circle cx="848.1" cy="616.8" r="1.35" fill="#151515"/><path d="M841.1 646.5L848.1 639.5L855.1 646.5L848.1 653.5Z" fill="#a1a1a1" stroke="#000" stroke-opacity="0.45" stroke-width="1"/><circle cx="848.1" cy="646.5" r="1.35" fill="#151515"/><path d="M841.1 675.6L848.1 668.6L855.1 675.6L848.1 682.6Z" fill="#598c5c" stroke="#000" stroke-opacity="0.45" stroke-width="1"/><path d="M841.1 704.5L848.1 697.5L855.1 704.5L848.1 711.5Z" fill="#598c5c" stroke="#000" stroke-opacity="0.45" stroke-width="1"/><circle cx="848.1" cy="704.5" r="1.35" fill="#151515"/><path d="M1269.8 539.9L1276.8 532.9L1283.8 539.9L1276.8 546.9Z" fill="#a1a1a1" stroke="#000" stroke-opacity="0.45" stroke-width="1"/><path d="M1080.2 636.6L1087.2 629.6L1094.2 636.6L1087.2 643.6Z" fill="#a1a1a1" stroke="#000" stroke-opacity="0.45" stroke-width="1"/><path d="M1080.2 666.2L1087.2 659.2L1094.2 666.2L1087.2 673.2Z" fill="#a1a1a1" stroke="#000" stroke-opacity="0.45" stroke-width="1"/><circle cx="1087.2" cy="666.2" r="1.35" fill="#151515"/><path d="M1546.4 413.3L1553.4 406.3L1560.4 413.3L1553.4 420.3Z" fill="#a1a1a1" stroke="#000" stroke-opacity="0.45" stroke-width="1"/><path d="M1356.6 510.6L1363.6 503.6L1370.6 510.6L1363.6 517.6Z" fill="#a1a1a1" stroke="#000" stroke-opacity="0.45" stroke-width="1"/><circle cx="1363.6" cy="510.6" r="1.35" fill="#151515"/><path d="M1356.6 539.5L1363.6 532.5L1370.6 539.5L1363.6 546.5Z" fill="#a1a1a1" stroke="#000" stroke-opacity="0.45" stroke-width="1"/><path d="M1795.9 501.8L1802.9 494.8L1809.9 501.8L1802.9 508.8Z" fill="#a1a1a1" stroke="#000" stroke-opacity="0.45" stroke-width="1"/><path d="M1606.0 598.7L1613.0 591.7L1620.0 598.7L1613.0 605.7Z" fill="#a1a1a1" stroke="#000" stroke-opacity="0.45" stroke-width="1"/><path d="M1606.0 627.7L1613.0 620.7L1620.0 627.7L1613.0 634.7Z" fill="#a1a1a1" stroke="#000" stroke-opacity="0.45" stroke-width="1"/><path d="M1549.8 642.5L1556.8 635.5L1563.8 642.5L1556.8 649.5Z" fill="#a1a1a1" stroke="#000" stroke-opacity="0.45" stroke-width="1"/><path d="M1360.3 710.1L1367.3 703.1L1374.3 710.1L1367.3 717.1Z" fill="#a1a1a1" stroke="#000" stroke-opacity="0.45" stroke-width="1"/><circle cx="1367.3" cy="710.1" r="1.35" fill="#151515"/><path d="M1360.3 739.1L1367.3 732.1L1374.3 739.1L1367.3 746.1Z" fill="#a1a1a1" stroke="#000" stroke-opacity="0.45" stroke-width="1"/><circle cx="1367.3" cy="739.1" r="1.35" fill="#151515"/><path d="M1360.3 767.4L1367.3 760.4L1374.3 767.4L1367.3 774.4Z" fill="#598c5c" stroke="#000" stroke-opacity="0.45" stroke-width="1"/><path d="M1360.3 797.0L1367.3 790.0L1374.3 797.0L1367.3 804.0Z" fill="#598c5c" stroke="#000" stroke-opacity="0.45" stroke-width="1"/><circle cx="1367.3" cy="797.0" r="1.35" fill="#151515"/><path d="M2133.0 564.7L2140.0 557.7L2147.0 564.7L2140.0 571.7Z" fill="#6363c7" stroke="#000" stroke-opacity="0.45" stroke-width="1"/><path d="M1943.1 597.5L1950.1 590.5L1957.1 597.5L1950.1 604.5Z" fill="#a1a1a1" stroke="#000" stroke-opacity="0.45" stroke-width="1"/><circle cx="1950.1" cy="597.5" r="1.35" fill="#151515"/><path d="M1943.1 626.5L1950.1 619.5L1957.1 626.5L1950.1 633.5Z" fill="#a1a1a1" stroke="#000" stroke-opacity="0.45" stroke-width="1"/><circle cx="1950.1" cy="626.5" r="1.35" fill="#151515"/><path d="M1943.1 655.3L1950.1 648.3L1957.1 655.3L1950.1 662.3Z" fill="#a1a1a1" stroke="#000" stroke-opacity="0.45" stroke-width="1"/><circle cx="2145.3" cy="830.0" r="5.9" fill="#00d6a3" stroke="#000" stroke-opacity="0.6" stroke-width="1"/><circle cx="1955.3" cy="862.7" r="5.9" fill="#00d6a3" stroke="#000" stroke-opacity="0.6" stroke-width="1"/><path d="M1948.3 891.8L1955.3 884.8L1962.3 891.8L1955.3 898.8Z" fill="#cca6d6" stroke="#000" stroke-opacity="0.45" stroke-width="1"/><circle cx="1955.3" cy="891.8" r="1.35" fill="#151515"/><circle cx="1955.3" cy="920.8" r="5.9" fill="#00d6a3" stroke="#000" stroke-opacity="0.6" stroke-width="1"/><path d="M1948.3 949.8L1955.3 942.8L1962.3 949.8L1955.3 956.8Z" fill="#cca6d6" stroke="#000" stroke-opacity="0.45" stroke-width="1"/><circle cx="1955.3" cy="949.8" r="1.35" fill="#151515"/><path d="M1948.3 978.6L1955.3 971.6L1962.3 978.6L1955.3 985.6Z" fill="#598c5c" stroke="#000" stroke-opacity="0.45" stroke-width="1"/><path d="M1948.3 1007.7L1955.3 1000.7L1962.3 1007.7L1955.3 1014.7Z" fill="#a663c7" stroke="#000" stroke-opacity="0.45" stroke-width="1"/><path d="M1948.3 1036.4L1955.3 1029.4L1962.3 1036.4L1955.3 1043.4Z" fill="#6363c7" stroke="#000" stroke-opacity="0.45" stroke-width="1"/><circle cx="1955.3" cy="1036.4" r="1.35" fill="#151515"/><circle cx="2491.7" cy="907.5" r="5.9" fill="#00d6a3" stroke="#000" stroke-opacity="0.6" stroke-width="1"/><circle cx="2301.9" cy="907.5" r="5.9" fill="#00d6a3" stroke="#000" stroke-opacity="0.6" stroke-width="1"/><path d="M2294.9 936.5L2301.9 929.5L2308.9 936.5L2301.9 943.5Z" fill="#cca6d6" stroke="#000" stroke-opacity="0.45" stroke-width="1"/><circle cx="2301.9" cy="936.5" r="1.35" fill="#151515"/><path d="M2294.9 965.8L2301.9 958.8L2308.9 965.8L2301.9 972.8Z" fill="#a663c7" stroke="#000" stroke-opacity="0.45" stroke-width="1"/><path d="M2294.9 994.6L2301.9 987.6L2308.9 994.6L2301.9 1001.6Z" fill="#6363c7" stroke="#000" stroke-opacity="0.45" stroke-width="1"/><circle cx="2301.9" cy="994.6" r="1.35" fill="#151515"/><path d="M2294.9 1104.9L2301.9 1097.9L2308.9 1104.9L2301.9 1111.9Z" fill="#cca6d6" stroke="#000" stroke-opacity="0.45" stroke-width="1"/><circle cx="2301.9" cy="1104.9" r="1.35" fill="#151515"/><circle cx="1430.9" cy="889.9" r="5.9" fill="#c4338f" stroke="#000" stroke-opacity="0.6" stroke-width="1"/><circle cx="1430.9" cy="918.8" r="5.9" fill="#6363c7" stroke="#000" stroke-opacity="0.6" stroke-width="1"/><circle cx="1430.9" cy="947.9" r="5.9" fill="#a663c7" stroke="#000" stroke-opacity="0.6" stroke-width="1"/><circle cx="1430.9" cy="976.7" r="5.9" fill="#6363c7" stroke="#000" stroke-opacity="0.6" stroke-width="1"/><circle cx="1430.9" cy="1005.6" r="5.9" fill="#00d6a3" stroke="#000" stroke-opacity="0.6" stroke-width="1"/><circle cx="833.9" cy="1099.8" r="5.9" fill="#cca6d6" stroke="#000" stroke-opacity="0.6" stroke-width="1"/><circle cx="833.9" cy="1070.5" r="5.9" fill="#ed9e5c" stroke="#000" stroke-opacity="0.6" stroke-width="1"/><circle cx="1110.9" cy="1209.5" r="5.9" fill="#c4338f" stroke="#000" stroke-opacity="0.6" stroke-width="1"/><circle cx="1110.9" cy="1238.5" r="5.9" fill="#6363c7" stroke="#000" stroke-opacity="0.6" stroke-width="1"/><circle cx="1110.9" cy="1267.8" r="5.9" fill="#a663c7" stroke="#000" stroke-opacity="0.6" stroke-width="1"/><circle cx="1110.9" cy="1296.4" r="5.9" fill="#6363c7" stroke="#000" stroke-opacity="0.6" stroke-width="1"/><circle cx="1110.9" cy="1325.4" r="5.9" fill="#00d6a3" stroke="#000" stroke-opacity="0.6" stroke-width="1"/><circle cx="829.9" cy="1419.6" r="5.9" fill="#cca6d6" stroke="#000" stroke-opacity="0.6" stroke-width="1"/><circle cx="829.9" cy="1390.3" r="5.9" fill="#ed9e5c" stroke="#000" stroke-opacity="0.6" stroke-width="1"/><circle cx="1806.0" cy="1608.6" r="5.9" fill="#c4338f" stroke="#000" stroke-opacity="0.6" stroke-width="1"/><circle cx="1806.0" cy="1637.7" r="5.9" fill="#6363c7" stroke="#000" stroke-opacity="0.6" stroke-width="1"/><circle cx="1806.0" cy="1666.5" r="5.9" fill="#a663c7" stroke="#000" stroke-opacity="0.6" stroke-width="1"/><circle cx="1806.0" cy="1695.6" r="5.9" fill="#6363c7" stroke="#000" stroke-opacity="0.6" stroke-width="1"/><circle cx="1806.0" cy="1724.7" r="5.9" fill="#00d6a3" stroke="#000" stroke-opacity="0.6" stroke-width="1"/><circle cx="1311.1" cy="1817.9" r="5.9" fill="#cca6d6" stroke="#000" stroke-opacity="0.6" stroke-width="1"/><circle cx="1311.1" cy="1789.3" r="5.9" fill="#ed9e5c" stroke="#000" stroke-opacity="0.6" stroke-width="1"/><path d="M1352.6 1215.6L1359.6 1208.6L1366.6 1215.6L1359.6 1222.6Z" fill="#a1a1a1" stroke="#000" stroke-opacity="0.45" stroke-width="1"/><circle cx="1359.6" cy="1215.6" r="1.35" fill="#151515"/><path d="M1352.6 1244.2L1359.6 1237.2L1366.6 1244.2L1359.6 1251.2Z" fill="#a1a1a1" stroke="#000" stroke-opacity="0.45" stroke-width="1"/><circle cx="1359.6" cy="1244.2" r="1.35" fill="#151515"/><path d="M1352.6 1273.2L1359.6 1266.2L1366.6 1273.2L1359.6 1280.2Z" fill="#a1a1a1" stroke="#000" stroke-opacity="0.45" stroke-width="1"/><circle cx="1359.6" cy="1273.2" r="1.35" fill="#151515"/><path d="M1162.5 1305.7L1169.5 1298.7L1176.5 1305.7L1169.5 1312.7Z" fill="#6363c7" stroke="#000" stroke-opacity="0.45" stroke-width="1"/><circle cx="1169.5" cy="1305.7" r="1.35" fill="#151515"/><path d="M1614.2 1217.5L1621.2 1210.5L1628.2 1217.5L1621.2 1224.5Z" fill="#6363c7" stroke="#000" stroke-opacity="0.45" stroke-width="1"/><circle cx="1621.2" cy="1217.5" r="1.35" fill="#151515"/><path d="M1424.2 1250.6L1431.2 1243.6L1438.2 1250.6L1431.2 1257.6Z" fill="#a1a1a1" stroke="#000" stroke-opacity="0.45" stroke-width="1"/><circle cx="1431.2" cy="1250.6" r="1.35" fill="#151515"/><path d="M1424.2 1279.2L1431.2 1272.2L1438.2 1279.2L1431.2 1286.2Z" fill="#a1a1a1" stroke="#000" stroke-opacity="0.45" stroke-width="1"/><circle cx="1431.2" cy="1279.2" r="1.35" fill="#151515"/><path d="M1424.2 1308.2L1431.2 1301.2L1438.2 1308.2L1431.2 1315.2Z" fill="#a1a1a1" stroke="#000" stroke-opacity="0.45" stroke-width="1"/><circle cx="1431.2" cy="1308.2" r="1.35" fill="#151515"/><circle cx="1020.7" cy="1633.5" r="5.9" fill="#00d6a3" stroke="#000" stroke-opacity="0.6" stroke-width="1"/><circle cx="1020.7" cy="1662.2" r="5.3" fill="#303030" stroke="#8a8a8a" stroke-width="1.2"/><circle cx="2137.0" cy="1355.6" r="5.9" fill="#00d6a3" stroke="#000" stroke-opacity="0.6" stroke-width="1"/><circle cx="1947.1" cy="1388.6" r="5.9" fill="#00d6a3" stroke="#000" stroke-opacity="0.6" stroke-width="1"/><path d="M1940.1 1417.6L1947.1 1410.6L1954.1 1417.6L1947.1 1424.6Z" fill="#cca6d6" stroke="#000" stroke-opacity="0.45" stroke-width="1"/><circle cx="1947.1" cy="1417.6" r="1.35" fill="#151515"/><circle cx="1947.1" cy="1446.6" r="5.9" fill="#00d6a3" stroke="#000" stroke-opacity="0.6" stroke-width="1"/><path d="M1940.1 1475.6L1947.1 1468.6L1954.1 1475.6L1947.1 1482.6Z" fill="#cca6d6" stroke="#000" stroke-opacity="0.45" stroke-width="1"/><circle cx="1947.1" cy="1475.6" r="1.35" fill="#151515"/><path d="M1940.1 1504.6L1947.1 1497.6L1954.1 1504.6L1947.1 1511.6Z" fill="#598c5c" stroke="#000" stroke-opacity="0.45" stroke-width="1"/><path d="M1940.1 1533.6L1947.1 1526.6L1954.1 1533.6L1947.1 1540.6Z" fill="#a663c7" stroke="#000" stroke-opacity="0.45" stroke-width="1"/><circle cx="1947.1" cy="1533.6" r="1.35" fill="#151515"/><path d="M1940.1 1643.7L1947.1 1636.7L1954.1 1643.7L1947.1 1650.7Z" fill="#6363c7" stroke="#000" stroke-opacity="0.45" stroke-width="1"/><circle cx="1947.1" cy="1643.7" r="1.35" fill="#151515"/><circle cx="2954.9" cy="1118.6" r="5.9" fill="#00d6a3" stroke="#000" stroke-opacity="0.6" stroke-width="1"/><rect x="2759.4" y="1106.0" width="11.6" height="24.5" rx="5.8" fill="#00d6a3" stroke="#000" stroke-opacity="0.45" stroke-width="1"/><circle cx="3055.1" cy="1113.8" r="5.9" fill="#00d6a3" stroke="#000" stroke-opacity="0.6" stroke-width="1"/><circle cx="3055.1" cy="1142.7" r="5.3" fill="#303030" stroke="#8a8a8a" stroke-width="1.2"/></svg>
<div class="r" style="left:11.2px;top:5.1px;width:45.4px;height:28.9px;background:#282828;border-radius:6px;box-shadow:inset 0 0 0 1px #3a3a3a;"></div><svg class="r" style="left:0;top:0" width="60" height="40"><circle cx="21" cy="11.6" r="1.9" fill="#8c8c8c"/><circle cx="27.5" cy="13.2" r="2.4" fill="#9a9a9a"/><circle cx="23.8" cy="20.4" r="3.4" fill="#b4b4b4"/><circle cx="34.2" cy="25" r="5.6" fill="#ececec"/></svg><svg class="r" style="left:41.0px;top:16.2px" width="13" height="9.5"><path d="M2 2L6.5 7.5L11 2" fill="none" stroke="#e6e6e6" stroke-width="1.4"/></svg><div class="r" style="left:64.1px;top:5.1px;width:115.5px;height:28.9px;background:#282828;border-radius:6px;box-shadow:inset 0 0 0 1px #3a3a3a;"></div><div class="t" style="left:76.0px;top:7.7px;font-size:17px;line-height:24px;color:#e6e6e6;letter-spacing:0.45px;">Modifier</div><svg class="r" style="left:163.5px;top:16.2px" width="14" height="9.5"><path d="M2 2L7.0 7.5L12 2" fill="none" stroke="#e6e6e6" stroke-width="1.4"/></svg><div class="t" style="left:197.8px;top:7.7px;font-size:17px;line-height:24px;color:#e6e6e6;">View</div><div class="t" style="left:257.8px;top:7.7px;font-size:17px;line-height:24px;color:#e6e6e6;">Select</div><div class="t" style="left:329.7px;top:7.7px;font-size:17px;line-height:24px;color:#e6e6e6;">Add</div><div class="t" style="left:382.6px;top:7.7px;font-size:17px;line-height:24px;color:#e6e6e6;">Node</div><div class="t" style="left:446.7px;top:7.7px;font-size:17px;line-height:24px;color:#e6e6e6;">Shaders Plus</div><div class="r" style="left:0.0px;top:69.4px;width:12.0px;height:25.6px;background:#1a1a1a;border-radius:0px;border-radius:0 5px 5px 0;"></div><svg class="r" style="left:0;top:0" width="14" height="100"><path d="M2.6 77.5L8.5 82.5L2.6 87.5" fill="none" stroke="#8a8a8a" stroke-width="1.4"/></svg><svg class="r" style="left:0;top:0" width="60" height="100"><rect x="33" y="65.2" width="12.2" height="11.7" fill="#e6e6e6"/><path d="M29 66V61.3H33.5M44.5 61.3H49V66M49 76V80.5H44.5M33.5 80.5H29V76" fill="none" stroke="#a8a8a8" stroke-width="1.4"/></svg><div class="t" style="left:63.0px;top:58.5px;font-size:17px;line-height:24px;color:#e6e6e6;letter-spacing:0.2px;">instancing mesh 2</div><svg class="r" style="left:225px;top:63px" width="14" height="16"><path d="M3 2L9.5 8L3 14" fill="none" stroke="#d0d0d0" stroke-width="1.5"/></svg><svg class="r" style="left:0;top:0" width="280" height="100"><circle cx="254.5" cy="62.5" r="2" fill="#8c8c8c"/><circle cx="260.5" cy="63.8" r="2.5" fill="#9a9a9a"/><circle cx="257" cy="70.8" r="3.5" fill="#b4b4b4"/><circle cx="266.8" cy="75.3" r="5.6" fill="#ececec"/></svg><div class="t" style="left:284.5px;top:58.5px;font-size:17px;line-height:24px;color:#e6e6e6;">Random Spinning Fans</div><svg class="r" style="left:484px;top:63px" width="14" height="16"><path d="M3 2L9.5 8L3 14" fill="none" stroke="#d0d0d0" stroke-width="1.5"/></svg><svg class="r" style="left:506.5px;top:58.5px" width="26" height="26"><rect x="5.3" y="2.1" width="12.1" height="9.3" rx="2.6" fill="#e6e6e6"/><rect x="7" y="8.6" width="8.7" height="1.3" fill="#282828"/><rect x="2.3" y="14.2" width="12.1" height="9.5" rx="2.6" fill="#e6e6e6"/><rect x="4" y="20.5" width="8.7" height="1.3" fill="#282828"/><path d="M19.6 4.6H20.5C22.4 4.6 23.5 5.7 23.5 7.6V18.4C23.5 20.3 22.4 21.4 20.5 21.4H17.2" fill="none" stroke="#bdbdbd" stroke-width="1.3"/><path d="M19 2.8L21 4.6L19 6.4Z" fill="#d0d0d0"/><path d="M16.8 19.6L14.8 21.4L16.8 23.2Z" fill="#d0d0d0"/></svg><div class="t" style="left:543.5px;top:58.5px;font-size:17px;line-height:24px;color:#e6e6e6;">Random Spinning Fans</div><div class="r" style="left:1721.4px;top:5.1px;width:331.8px;height:28.9px;background:#1d1d1d;border-radius:6px;box-shadow:inset 0 0 0 1px #3d3d3d;"></div><div class="r" style="left:1721.4px;top:5.1px;width:45.2px;height:28.9px;background:#282828;border-radius:6px;box-shadow:inset 0 0 0 1px #3d3d3d;border-radius:6px 0 0 6px;"></div><svg class="r" style="left:1726.0px;top:7.0px" width="26" height="26"><rect x="5.3" y="2.1" width="12.1" height="9.3" rx="2.6" fill="#e6e6e6"/><rect x="7" y="8.6" width="8.7" height="1.3" fill="#282828"/><rect x="2.3" y="14.2" width="12.1" height="9.5" rx="2.6" fill="#e6e6e6"/><rect x="4" y="20.5" width="8.7" height="1.3" fill="#282828"/><path d="M19.6 4.6H20.5C22.4 4.6 23.5 5.7 23.5 7.6V18.4C23.5 20.3 22.4 21.4 20.5 21.4H17.2" fill="none" stroke="#bdbdbd" stroke-width="1.3"/><path d="M19 2.8L21 4.6L19 6.4Z" fill="#d0d0d0"/><path d="M16.8 19.6L14.8 21.4L16.8 23.2Z" fill="#d0d0d0"/></svg><svg class="r" style="left:1751.0px;top:15.9px" width="12.8" height="9.9"><path d="M2 2L6.4 7.9L10.8 2" fill="none" stroke="#e6e6e6" stroke-width="1.4"/></svg><div class="r" style="left:1966.0px;top:5.1px;width:87.2px;height:28.9px;background:#545454;border-radius:6px;border-radius:0 6px 6px 0;"></div><div class="r" style="left:1995.0px;top:5.1px;width:1.0px;height:28.9px;background:#3d3d3d;border-radius:0px;"></div><div class="r" style="left:2024.3px;top:5.1px;width:1.0px;height:28.9px;background:#3d3d3d;border-radius:0px;"></div><div class="t" style="left:1778.0px;top:7.7px;font-size:17px;line-height:24px;color:#e6e6e6;">Random Spinning Fans</div><svg class="r" style="left:0;top:0" width="2100" height="40"><path d="M1981.5 10.5L1990.6 13.2V19.5C1990.6 24.2 1986.5 27.3 1981.5 29.9C1976.5 27.3 1972.4 24.2 1972.4 19.5V13.2Z" fill="none" stroke="#d0d0d0" stroke-width="1.5" stroke-linejoin="round"/><path d="M2006.5 10H2015.2L2019.8 14.6V23.3H2006.5Z" fill="none" stroke="#e6e6e6" stroke-width="1.7"/><path d="M2015 10.2V14.8H2019.6Z" fill="#e6e6e6"/><path d="M2003.5 14.7H2000.4V29.4H2015V26" fill="none" stroke="#e6e6e6" stroke-width="1.7"/><path d="M2034.2 13.7L2045.2 24.7M2045.2 13.7L2034.2 24.7" stroke="#e6e6e6" stroke-width="1.6"/><path d="M2065.2 29.8L2071.5 23.5" stroke="#b0b0b0" stroke-width="1.5"/><path d="M2079 10L2084.6 15.6C2084.9 16.4 2084.6 17 2083.8 17.2L2081.5 17.5L2077.5 21.6L2077.8 25.5C2077.6 26.5 2076.8 26.8 2076 26.2L2068 18.3C2067.5 17.6 2067.8 16.8 2068.8 16.6L2072.7 16.8L2076.8 12.8L2077 10.5C2077.3 9.6 2078.2 9.4 2079 10Z" fill="none" stroke="#b8b8b8" stroke-width="1.5" stroke-linejoin="round"/></svg><div class="r" style="left:3642.3px;top:5.4px;width:27.9px;height:28.2px;background:#545454;border-radius:6px;"></div><svg class="r" style="left:0;top:0" width="3700" height="40"><path d="M3647.5 19.5L3652.9 14.1A6.5 6.5 0 0 1 3662.1 23.3L3656.7 28.7" fill="none" stroke="#c8c8c8" stroke-width="5.2" stroke-linecap="square"/><path d="M3647.5 19.5L3652.9 14.1A6.5 6.5 0 0 1 3662.1 23.3L3656.7 28.7" fill="none" stroke="#545454" stroke-width="2.4"/></svg><div class="r" style="left:3678.6px;top:5.4px;width:56.8px;height:28.2px;background:#282828;border-radius:6px;box-shadow:inset 0 0 0 1px #3a3a3a;"></div><div class="r" style="left:3678.6px;top:5.4px;width:27.6px;height:28.2px;background:#4772b3;border-radius:6px;border-radius:6px 0 0 6px;"></div><svg class="r" style="left:0;top:0" width="3720" height="40"><path d="M3686.2 18.6A6.8 6.8 0 1 0 3695.5 28.5" fill="none" stroke="#f4f4f4" stroke-width="1.5"/><circle cx="3695.1" cy="16.3" r="7.2" fill="#f4f4f4"/><path d="M3689.6 16.6A6.8 6.8 0 0 1 3695.9 22.4" fill="none" stroke="#4772b3" stroke-width="1.1" stroke-dasharray="2 2.2"/></svg><svg class="r" style="left:3713.8px;top:15.9px" width="13.5" height="9.6"><path d="M2 2L6.8 7.6L11.5 2" fill="none" stroke="#e6e6e6" stroke-width="1.4"/></svg><div class="r" style="left:3761.5px;top:5.4px;width:28.0px;height:28.2px;background:#545454;border-radius:6px;"></div><svg class="r" style="left:0;top:0" width="3800" height="40"><path d="M3764.8 10.6H3785.6L3776.4 20.3V26.6L3773.2 29.8V20.3Z" fill="none" stroke="#f0f0f0" stroke-width="1.5" stroke-linejoin="round"/></svg><div class="r" style="left:3799.4px;top:5.4px;width:28.3px;height:28.2px;background:#545454;border-radius:6px;"></div><svg class="r" style="left:0;top:0" width="3840" height="40"><path fill="#eeeeee" fill-rule="evenodd" d="M3820.69 17.84L3823.61 18.35L3823.61 22.25L3820.69 22.76L3820.33 23.64L3822.03 26.08L3819.28 28.83L3816.84 27.13L3815.96 27.49L3815.45 30.41L3811.55 30.41L3811.04 27.49L3810.16 27.13L3807.72 28.83L3804.97 26.08L3806.67 23.64L3806.31 22.76L3803.39 22.25L3803.39 18.35L3806.31 17.84L3806.67 16.96L3804.97 14.52L3807.72 11.77L3810.16 13.47L3811.04 13.11L3811.55 10.19L3815.45 10.19L3815.96 13.11L3816.84 13.47L3819.28 11.77L3822.03 14.52L3820.33 16.96ZM3816.5 20.3A3 3 0 1 0 3810.5 20.3A3 3 0 1 0 3816.5 20.3Z"/></svg><div class="r" style="left:3810.0px;top:40.0px;width:30.0px;height:2086.0px;background:#181818;border-radius:0px;"></div><div class="r" style="left:3811.0px;top:45.0px;width:25.0px;height:69.0px;background:#1d1d1d;border-radius:0px;border-radius:0 5px 5px 0;box-shadow:inset -1px 0 0 #333, inset 0 1px 0 #333, inset 0 -1px 0 #333;"></div><div class="t" style="left:3723.5px;top:67.5px;width:200px;height:24px;line-height:24px;text-align:center;font-size:17px;color:#cfcfcf;transform:rotate(90deg)">Group</div><div class="r" style="left:3811.0px;top:122.0px;width:25.0px;height:62.0px;background:#1d1d1d;border-radius:0px;border-radius:0 5px 5px 0;box-shadow:inset -1px 0 0 #333, inset 0 1px 0 #333, inset 0 -1px 0 #333;"></div><div class="t" style="left:3723.5px;top:141.0px;width:200px;height:24px;line-height:24px;text-align:center;font-size:17px;color:#cfcfcf;transform:rotate(90deg)">Node</div><div class="r" style="left:3811.0px;top:191.0px;width:25.0px;height:57.0px;background:#303030;border-radius:0px;border-radius:0 5px 5px 0;box-shadow:inset -1px 0 0 #333, inset 0 1px 0 #333, inset 0 -1px 0 #333;"></div><div class="t" style="left:3723.5px;top:207.5px;width:200px;height:24px;line-height:24px;text-align:center;font-size:17px;color:#ffffff;transform:rotate(90deg)">Tool</div><div class="r" style="left:3811.0px;top:255.0px;width:25.0px;height:58.0px;background:#1d1d1d;border-radius:0px;border-radius:0 5px 5px 0;box-shadow:inset -1px 0 0 #333, inset 0 1px 0 #333, inset 0 -1px 0 #333;"></div><div class="t" style="left:3723.5px;top:272.0px;width:200px;height:24px;line-height:24px;text-align:center;font-size:17px;color:#cfcfcf;transform:rotate(90deg)">View</div><div class="r" style="left:3811.0px;top:321.0px;width:25.0px;height:138.0px;background:#1d1d1d;border-radius:0px;border-radius:0 5px 5px 0;box-shadow:inset -1px 0 0 #333, inset 0 1px 0 #333, inset 0 -1px 0 #333;"></div><div class="t" style="left:3723.5px;top:378.0px;width:200px;height:24px;line-height:24px;text-align:center;font-size:17px;color:#cfcfcf;transform:rotate(90deg)">Node Wrangler</div><div class="r" style="left:3811.0px;top:466.0px;width:25.0px;height:85.0px;background:#1d1d1d;border-radius:0px;border-radius:0 5px 5px 0;box-shadow:inset -1px 0 0 #333, inset 0 1px 0 #333, inset 0 -1px 0 #333;"></div><div class="t" style="left:3723.5px;top:496.5px;width:200px;height:24px;line-height:24px;text-align:center;font-size:17px;color:#cfcfcf;transform:rotate(90deg)">Tinquify</div><div class="r" style="left:3431.4px;top:40.0px;width:366.5px;height:133.0px;background:#3d3d3d;border-radius:8px;"></div><svg class="r" style="left:3441.7px;top:52.2px" width="17.7" height="12"><path d="M2 2L8.8 10L15.7 2" fill="none" stroke="#e6e6e6" stroke-width="1.5"/></svg><div class="t" style="left:3462.0px;top:47.7px;font-size:18px;line-height:24px;color:#e6e6e6;letter-spacing:0.3px;">Active Tool</div><svg class="r" style="left:3767px;top:54px" width="18" height="9"><g fill="#6a6a6a"><rect x="1" y="1" width="2" height="2"/><rect x="5" y="1" width="2" height="2"/><rect x="9" y="1" width="2" height="2"/><rect x="13" y="1" width="2" height="2"/><rect x="1" y="6" width="2" height="2"/><rect x="5" y="6" width="2" height="2"/><rect x="9" y="6" width="2" height="2"/><rect x="13" y="6" width="2" height="2"/></g></svg><svg class="r" style="left:0;top:0" width="3600" height="180"><rect x="3454.2" y="86.4" width="31.6" height="31.2" fill="none" stroke="#f2a52a" stroke-width="2" stroke-dasharray="5 3.6" stroke-dashoffset="-1"/><path d="M3465 94L3477.3 105.3L3470.6 105.3L3465 110.5Z" fill="#e0e0e0"/></svg><div class="t" style="left:3497.5px;top:90.6px;font-size:17px;line-height:24px;color:#e6e6e6;letter-spacing:0.3px;">Select Box</div><div class="r" style="left:3444.4px;top:133.2px;width:82.4px;height:26.7px;background:#545454;border-radius:6px;"></div><div class="r" style="left:3444.4px;top:133.2px;width:27.4px;height:26.7px;background:#4772b3;border-radius:0px;border-radius:6px 0 0 6px;"></div><div class="r" style="left:3471.3px;top:133.2px;width:1.0px;height:26.7px;background:#3d3d3d;border-radius:0px;"></div><div class="r" style="left:3498.8px;top:133.2px;width:1.0px;height:26.7px;background:#3d3d3d;border-radius:0px;"></div><svg class="r" style="left:0;top:0" width="3600" height="180"><rect x="3447.4" y="137.3" width="19.2" height="18.8" fill="none" stroke="#fff" stroke-width="1.6" stroke-dasharray="3.6 2.6"/><path d="M3481.1 136.5H3495.3V150.7H3489.2V157.8H3474.5V142.7H3481.1Z" fill="#cacaca"/><path d="M3509 136.5H3523.2V150.7H3517.6V142.7H3509Z" fill="#cacaca"/><path d="M3507.5 143.5H3503.2V157H3516.8V152" fill="none" stroke="#cacaca" stroke-width="1.6" stroke-dasharray="3 2.4"/></svg><svg class="r" style="left:0;top:0" width="600" height="620"><path d="M547.8 581L547.8 601.7L552.4 597.9L557.2 607.4L560.4 605.9L556.2 596.4L562.5 596.2Z" fill="#fff" stroke="#000" stroke-width="2.6" stroke-linejoin="miter" paint-order="stroke"/></svg><div class="r" style="left:12.0px;top:2118.0px;width:3798.0px;height:4.7px;background:#363636;border-radius:3px;"></div>
</div>
</body></html>
